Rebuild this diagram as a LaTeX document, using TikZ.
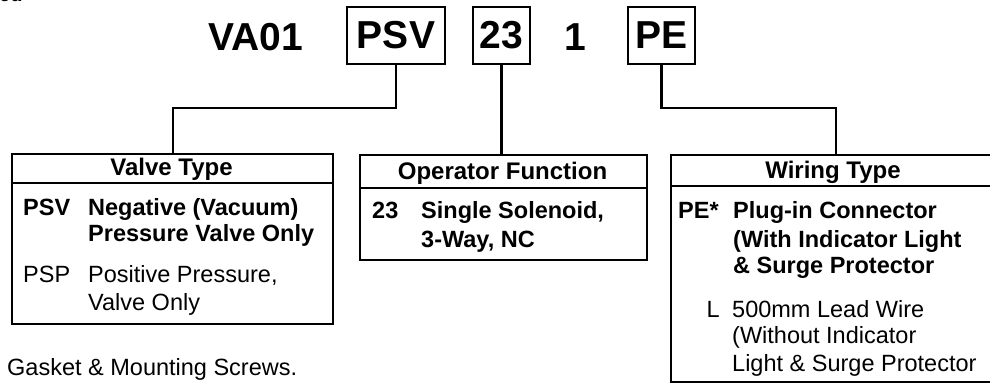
\documentclass[tikz,border=0pt]{standalone}
\usepackage{fontspec}
\setmainfont{Liberation Sans}
\begin{document}
\begin{tikzpicture}[x=1pt,y=-1pt,
  frame/.style={draw, line width=2.2pt, inner sep=0pt, anchor=north west},
  codebox/.style={draw, line width=2.2pt, inner sep=0pt, minimum height=57pt, font=\fontsize{39}{41}\selectfont\bfseries},
  bigtxt/.style={inner sep=0pt, font=\fontsize{39}{41}\selectfont\bfseries},
  conn/.style={line width=2.2pt},
  head/.style={inner sep=0pt, anchor=base, font=\fontsize{24}{27}\selectfont\bfseries},
  btxt/.style={inner sep=0pt, anchor=base west, font=\fontsize{23.5}{27}\selectfont\bfseries},
  rtxt/.style={inner sep=0pt, anchor=base west, font=\fontsize{23.5}{27}\selectfont},
  rtxtr/.style={inner sep=0pt, anchor=base east, font=\fontsize{23.5}{27}\selectfont}]
\useasboundingbox (0,0) rectangle (990,383);
\begin{scope}
\clip (0,0) rectangle (990,383);
% cut-off fragment at top-left
\node[inner sep=0pt, anchor=base west, font=\fontsize{20}{24}\selectfont\bfseries] (frag) at (-1,1.5) {ed};

% code row
\node[bigtxt, anchor=base] (va) at (256,50) {VA01};
\node[codebox, minimum width=98pt] (cpsv) at (396,35.5) {PSV};
\node[codebox, minimum width=57pt] (c23) at (501.5,35.5) {23};
\node[bigtxt, anchor=base] (c1) at (575,50) {1};
\node[codebox, minimum width=67pt] (cpe) at (661.5,35.5) {PE};

% boxes
\node[frame, minimum width=321pt, minimum height=170pt] (vt) at (11,153) {};
\node[frame, minimum width=287pt, minimum height=105pt] (op) at (359,154) {};
\node[frame, minimum width=327pt, minimum height=227pt] (wt) at (670,154) {};
\draw[conn] (vt.west |- 0,183) -- (vt.east |- 0,183);
\draw[conn] (op.west |- 0,188) -- (op.east |- 0,188);
\draw[conn] (wt.west |- 0,186) -- (wt.east |- 0,186);

% connectors
\coordinate (k1) at (173,108);
\coordinate (k3) at (836,108);
\draw[conn] (cpsv.south) |- (k1) -- (k1 |- vt.north);
\draw[conn] (c23.south) -- (c23.south |- op.north);
\draw[conn] (cpe.south) |- (k3) -- (k3 |- wt.north);

% Valve Type
\node[head] (vth) at (171.5,175) {Valve Type};
\node[btxt] (vpsv) at (23,215) {PSV};
\node[btxt] (vpsv1) at (88,215) {Negative (Vacuum)};
\node[btxt] (vpsv2) at (88,241) {Pressure Valve Only};
\node[rtxt] (vpsp) at (23,282) {PSP};
\node[rtxt] (vpsp1) at (88,282) {Positive Pressure,};
\node[rtxt] (vpsp2) at (88,310) {Valve Only};

% Operator Function
\node[head] (oph) at (502.5,179) {Operator Function};
\node[btxt] (o23) at (372,218) {23};
\node[btxt] (o231) at (421,218) {Single Solenoid,};
\node[btxt] (o232) at (421,247) {3-Way, NC};

% Wiring Type
\node[head] (wth) at (833,178) {Wiring Type};
\node[btxt] (wpe) at (678,218) {PE*};
\node[btxt] (wpe1) at (733,218) {Plug-in Connector};
\node[btxt] (wpe2) at (733,247) {(With Indicator Light};
\node[btxt] (wpe3) at (733,273) {\& Surge Protector};
\node[rtxtr] (wl) at (720,317) {L};
\node[rtxt] (wl1) at (732,317) {500mm Lead Wire};
\node[rtxt] (wl2) at (732,343) {(Without Indicator};
\node[rtxt] (wl3) at (732,371) {Light \& Surge Protector};

% footnote
\node[rtxt] (gask) at (7,375) {Gasket \& Mounting Screws.};
\end{scope}
\end{tikzpicture}
\end{document}
